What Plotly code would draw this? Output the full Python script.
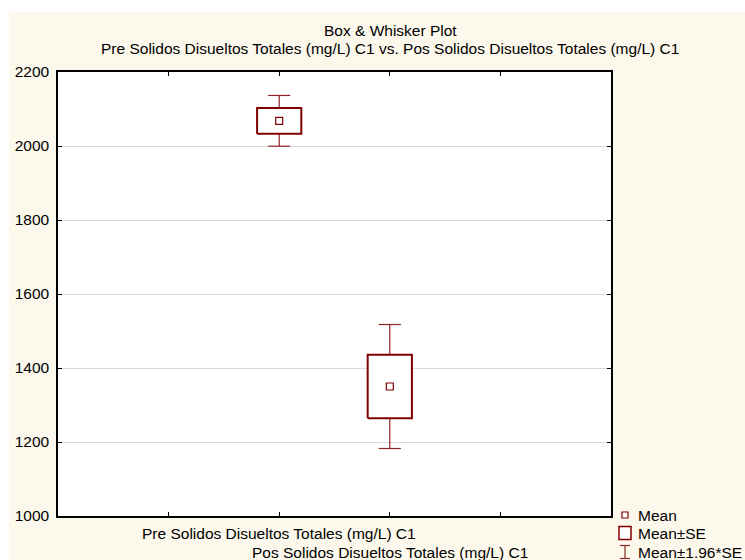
import plotly.graph_objects as go

# ---- data -------------------------------------------------------------
categories = [
    "Pre Solidos Disueltos Totales (mg/L) C1",
    "Pos Solidos Disueltos Totales (mg/L) C1",
]
positions = [2, 3]          # slot of each variable on the category axis
means = [2068, 1350]
std_errors = [35, 85.5]
z_factor = 1.96
y_ticks = [1000, 1200, 1400, 1600, 1800, 2000, 2200]
legend_labels = ["Mean", "Mean\u00b1SE", "Mean\u00b11.96*SE"]
title_lines = [
    "Box & Whisker Plot",
    "Pre Solidos Disueltos Totales (mg/L) C1 vs. Pos Solidos Disueltos Totales (mg/L) C1",
]

# ---- styling ----------------------------------------------------------
W, H = 745, 560
L, R, T, B = 58, 134, 72, 44
PW, PH = W - L - R, H - T - B
RED = "#800000"
WHISKER = "#8E2424"
CREAM = "#FDF8EC"
FONT = dict(family="Arial, Liberation Sans, sans-serif", size=15.5, color="#000000")
BOX_HALF = 0.2
CAP_HALF = 0.1


def px_x(px):
    return (px - L) / PW


def px_y(py):
    return (H - B - py) / PH


fig = go.Figure()

for p, m, se in zip(positions, means, std_errors):
    lo, hi = m - se, m + se
    wlo, whi = m - z_factor * se, m + z_factor * se
    # whiskers with end caps
    fig.add_trace(go.Scatter(
        x=[p, p, None, p, p, None, p - CAP_HALF, p + CAP_HALF, None, p - CAP_HALF, p + CAP_HALF],
        y=[hi, whi, None, lo, wlo, None, whi, whi, None, wlo, wlo],
        mode="lines", line=dict(color=WHISKER, width=1.2),
        showlegend=False, hoverinfo="skip",
    ))
    # mean +/- SE box
    fig.add_trace(go.Scatter(
        x=[p - BOX_HALF, p + BOX_HALF, p + BOX_HALF, p - BOX_HALF, p - BOX_HALF],
        y=[lo, lo, hi, hi, lo],
        mode="lines", fill="toself", fillcolor="white",
        line=dict(color=RED, width=2),
        showlegend=False, hoverinfo="skip",
    ))

# mean points
fig.add_trace(go.Scatter(
    x=positions, y=means, mode="markers",
    marker=dict(symbol="square-open", size=7, color=RED, line=dict(width=1.2, color=RED)),
    showlegend=False,
))

shapes = []
annotations = []

# white strip along the top and left edges of the page
shapes.append(dict(type="rect", xref="paper", yref="paper", layer="below",
                   x0=px_x(0), x1=px_x(W), y0=px_y(12), y1=px_y(0),
                   fillcolor="white", line=dict(width=0)))
shapes.append(dict(type="rect", xref="paper", yref="paper", layer="below",
                   x0=px_x(0), x1=px_x(9), y0=px_y(H), y1=px_y(0),
                   fillcolor="white", line=dict(width=0)))

# category labels, staggered on two lines
for i, (p, name) in enumerate(zip(positions, categories)):
    annotations.append(dict(x=p, xref="x", y=px_y(533 + 19 * i), yref="paper",
                            text=name, showarrow=False, xanchor="center",
                            yanchor="middle", font=FONT))

# title
for i, line in enumerate(title_lines):
    annotations.append(dict(x=px_x(390), xref="paper", y=px_y(31 + 17 * i), yref="paper",
                            text=line, showarrow=False, xanchor="center",
                            yanchor="middle", font=FONT))

# legend
leg_rows = [515, 533, 552]
gx = 625
# mean symbol
shapes.append(dict(type="rect", xref="paper", yref="paper",
                   x0=px_x(gx - 3), x1=px_x(gx + 3), y0=px_y(leg_rows[0] + 3), y1=px_y(leg_rows[0] - 3),
                   line=dict(color=RED, width=1.2), fillcolor="white"))
# box symbol
shapes.append(dict(type="rect", xref="paper", yref="paper",
                   x0=px_x(gx - 6), x1=px_x(gx + 6), y0=px_y(leg_rows[1] + 6.5), y1=px_y(leg_rows[1] - 6.5),
                   line=dict(color=RED, width=1.5), fillcolor="white"))
# whisker symbol
wy0, wy1 = leg_rows[2] - 6.5, leg_rows[2] + 6.5
for x0, y0, x1, y1 in [(gx, wy0, gx, wy1), (gx - 5, wy0, gx + 5, wy0), (gx - 5, wy1, gx + 5, wy1)]:
    shapes.append(dict(type="line", xref="paper", yref="paper",
                       x0=px_x(x0), y0=px_y(y0), x1=px_x(x1), y1=px_y(y1),
                       line=dict(color=WHISKER, width=1.2)))
for row, label in zip(leg_rows, legend_labels):
    annotations.append(dict(x=px_x(636), xref="paper", y=px_y(row), yref="paper",
                            text=label, showarrow=False, xanchor="left",
                            yanchor="middle", font=FONT))

fig.update_layout(
    width=W, height=H,
    margin=dict(l=L, r=R, t=T, b=B, autoexpand=False),
    paper_bgcolor=CREAM, plot_bgcolor="white",
    showlegend=False,
    shapes=shapes, annotations=annotations,
    font=FONT,
)
fig.update_xaxes(
    range=[0, 5], tickvals=[1, 2, 3, 4], ticktext=["", "", "", ""],
    ticks="inside", ticklen=4, tickcolor="#000000",
    showline=True, linecolor="#000000", linewidth=1.5, mirror="ticks",
    showgrid=False, zeroline=False, fixedrange=True,
)
fig.update_yaxes(
    range=[y_ticks[0], y_ticks[-1]], tickvals=y_ticks,
    ticks="inside", ticklen=4, tickcolor="#000000",
    showline=True, linecolor="#000000", linewidth=1.5, mirror="ticks",
    showgrid=True, gridcolor="#D9D9D9", gridwidth=1, zeroline=False,
    tickfont=FONT, ticklabelstandoff=4, fixedrange=True,
)

fig.write_html("out.html")
